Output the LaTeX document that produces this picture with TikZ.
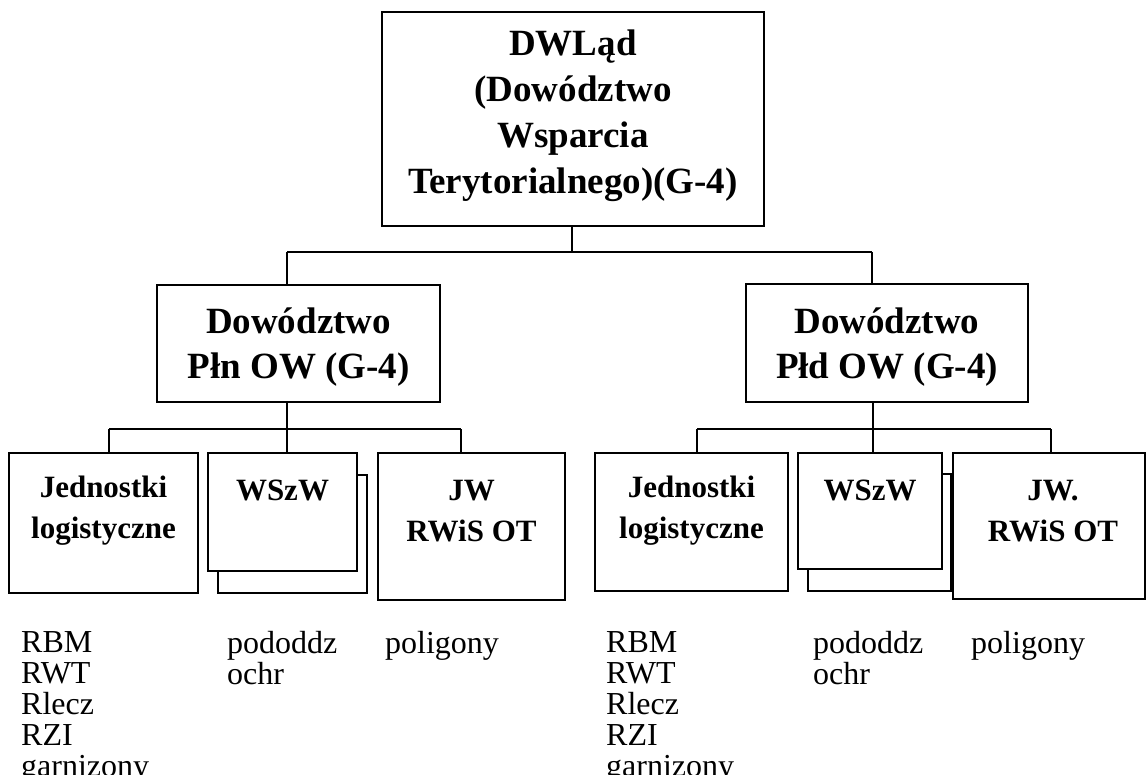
\documentclass[tikz,border=0pt]{standalone}
\usepackage{fontspec}
\setmainfont{Liberation Serif}
\begin{document}
\begin{tikzpicture}[x=1pt,y=-1pt,
  box/.style={draw=black,line width=2pt,fill=white,inner sep=0pt},
  big/.style={font=\bfseries\fontsize{37}{46}\selectfont,align=center,inner sep=0pt},
  mid/.style={font=\bfseries\fontsize{37}{45}\selectfont,align=center,inner sep=0pt},
  small/.style={font=\bfseries\fontsize{31}{41}\selectfont,align=center,inner sep=0pt},
  list/.style={font=\fontsize{32}{31}\selectfont,align=left,inner sep=0pt,anchor=north west},
  conn/.style={line width=2pt}]
\useasboundingbox (0,0) rectangle (1147,775);
% top
\node[box,minimum width=382pt,minimum height=214pt] (top) at (573,119) {};
\node[big] (toptxt) at (573,116) {DWLąd\\(Dowództwo\\Wsparcia\\Terytorialnego)(G-4)};
% middle
\node[box,minimum width=283pt,minimum height=117pt] (ml) at (298.5,343.5) {};
\node[mid] (mltxt) at (298.5,347) {Dowództwo\\Płn OW (G-4)};
\node[box,minimum width=282pt,minimum height=118pt] (mr) at (887,343) {};
\node[mid] (mrtxt) at (887,347) {Dowództwo\\Płd OW (G-4)};
% lower left
\node[box,minimum width=189pt,minimum height=140pt] (jl) at (103.5,523) {};
\node[small] (jltxt) at (103.5,511) {Jednostki\\logistyczne};
\node[box,minimum width=149pt,minimum height=118pt] (wlb) at (292.5,534) {};
\node[box,minimum width=149pt,minimum height=118pt] (wl) at (282.5,512) {};
\node[small] (wltxt) at (282.5,490) {WSzW};
\node[box,minimum width=187pt,minimum height=147pt] (jwl) at (471.5,526.5) {};
\node[small] (jwltxt) at (471.5,511) {JW\\RWiS OT};
% lower right
\node[box,minimum width=193pt,minimum height=138pt] (jr) at (691.5,522) {};
\node[small] (jrtxt) at (691.5,511) {Jednostki\\logistyczne};
\node[box,minimum width=143pt,minimum height=117pt] (wrb) at (879.5,532.5) {};
\node[box,minimum width=144pt,minimum height=116pt] (wr) at (870,511) {};
\node[small] (wrtxt) at (870,490) {WSzW};
\node[box,minimum width=192pt,minimum height=146pt] (jwr) at (1049,526) {};
\node[small] (jwrtxt) at (1053,511) {JW.\\RWiS OT};
% connectors top
\coordinate (busT) at (572,252);
\coordinate (busL) at (287,252);
\coordinate (busR) at (872,252);
\draw[conn] (top.south -| busT) -- (busT);
\draw[conn] (busL) -- (busR);
\draw[conn] (busL) -- (busL |- ml.north);
\draw[conn] (busR) -- (busR |- mr.north);
% connectors left group
\coordinate (l0) at (287,429);
\coordinate (l1) at (109,429);
\coordinate (l3) at (461,429);
\draw[conn] (ml.south -| l0) -- (l0);
\draw[conn] (l1) -- (l3);
\draw[conn] (l1) -- (l1 |- jl.north);
\draw[conn] (l0) -- (l0 |- wl.north);
\draw[conn] (l3) -- (l3 |- jwl.north);
% connectors right group
\coordinate (r0) at (873,429);
\coordinate (r1) at (697,429);
\coordinate (r3) at (1051,429);
\draw[conn] (mr.south -| r0) -- (r0);
\draw[conn] (r1) -- (r3);
\draw[conn] (r1) -- (r1 |- jr.north);
\draw[conn] (r0) -- (r0 |- wr.north);
\draw[conn] (r3) -- (r3 |- jwr.north);
% lists
\node[list] (la) at (21,631) {RBM\\RWT\\Rlecz\\RZI\\garnizony};
\node[list] (lb) at (227,631) {pododdz\\ochr};
\node[list] (lc) at (385,631) {poligony};
\node[list] (ra) at (606,631) {RBM\\RWT\\Rlecz\\RZI\\garnizony};
\node[list] (rb) at (813,631) {pododdz\\ochr};
\node[list] (rc) at (971,631) {poligony};
\end{tikzpicture}
\end{document}
